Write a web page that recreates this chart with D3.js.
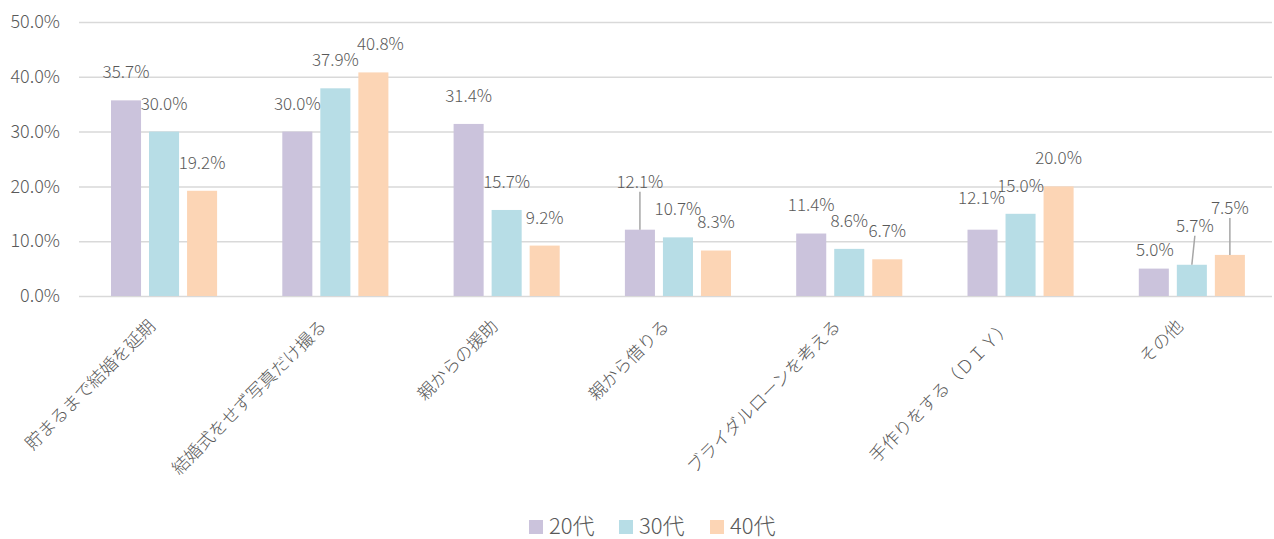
<!DOCTYPE html>
<html>
<head>
<meta charset="utf-8">
<script src="https://cdn.jsdelivr.net/npm/d3@7"></script>
<style>
  body { margin: 0; background: #fff; }
  text { font-family: "Noto Sans CJK JP", "Noto Sans", sans-serif; font-weight: 300; }
</style>
</head>
<body>
<svg id="chart" width="1274" height="539"></svg>
<script>
const categories = ['貯まるまで結婚を延期', '結婚式をせず写真だけ撮る', '親からの援助', '親から借りる', 'ブライダルローンを考える', '手作りをする（ＤＩＹ）', 'その他'];
const seriesNames = ['20代', '30代', '40代'];
const values20 = [35.7, 30.0, 31.4, 12.1, 11.4, 12.1, 5.0];
const values30 = [30.0, 37.9, 15.7, 10.7, 8.6, 15.0, 5.7];
const values40 = [19.2, 40.8, 9.2, 8.3, 6.7, 20.0, 7.5];
const yTicks = [0, 10, 20, 30, 40, 50];
const colors = ['#cbc3dc', '#b7dde6', '#fcd5b5'];

// labels that were dragged away from their default place: [category, series, dx, dy, leader]
const labelMoves = [
  [1, 2, 7, 0, false],
  [3, 0, 0, -20, true],
  [5, 0, -1, -4, false],
  [6, 0, 1, 9, false],
  [6, 1, 3, -11, true],
  [6, 2, 0, -19, true]
];

const svg = d3.select('#chart');
const margin = { top: 22, right: 2, bottom: 243, left: 79 };
const width = 1274 - margin.left - margin.right;
const height = 539 - margin.top - margin.bottom;
const g = svg.append('g').attr('transform', `translate(${margin.left},${margin.top})`);

const x = d3.scaleBand().domain(categories).range([-0.6, 1198.5]);
const xs = d3.scaleBand().domain(seriesNames).range([32.6, x.bandwidth() - 32.6]).paddingInner(0.21);
const y = d3.scaleLinear().domain([0, 50]).range([height, 0]);

// grid
g.append('g')
  .call(d3.axisLeft(y).tickValues(yTicks).tickSize(-width).tickFormat(d => d.toFixed(1) + '%'))
  .call(a => a.select('.domain').remove())
  .call(a => a.selectAll('.tick line').attr('stroke', '#d9d9d9').attr('stroke-width', 1.5))
  .call(a => a.selectAll('.tick text')
    .attr('x', -19).attr('fill', '#595959').attr('font-size', 18));

const rows = categories.map((c, i) => ({ cat: c, vals: [values20[i], values30[i], values40[i]] }));

const groups = g.selectAll('.grp').data(rows).join('g')
  .attr('transform', d => `translate(${x(d.cat)},0)`);

groups.selectAll('rect').data(d => d.vals.map((v, s) => ({ v, s })))
  .join('rect')
  .attr('x', d => xs(seriesNames[d.s]))
  .attr('width', xs.bandwidth())
  .attr('y', d => y(d.v))
  .attr('height', d => height - y(d.v))
  .attr('fill', d => colors[d.s]);

// data labels
const labels = [];
rows.forEach((r, ci) => r.vals.forEach((v, s) => {
  const mv = labelMoves.find(m => m[0] === ci && m[1] === s);
  const bx = x(r.cat) + xs(seriesNames[s]) + xs.bandwidth() / 2;
  const by = y(v);
  labels.push({ v, bx, by, dx: mv ? mv[2] : 0, dy: mv ? mv[3] : 0, leader: mv ? mv[4] : false });
}));

g.selectAll('.leader').data(labels.filter(d => d.leader)).join('line')
  .attr('x1', d => d.bx).attr('y1', d => d.by)
  .attr('x2', d => d.bx + d.dx).attr('y2', d => d.by - 28 + d.dy + 10)
  .attr('stroke', '#a6a6a6').attr('stroke-width', 1.5);

g.selectAll('.dl').data(labels).join('text')
  .attr('x', d => d.bx + d.dx)
  .attr('y', d => d.by - 28 + d.dy)
  .attr('dy', '0.35em')
  .attr('text-anchor', 'middle')
  .attr('fill', '#595959')
  .attr('font-size', 17)
  .text(d => d.v.toFixed(1) + '%');

// category labels
g.selectAll('.cl').data(categories).join('text')
  .attr('transform', d => `translate(${x(d) + x.bandwidth() / 2 - 12},${height + 27}) rotate(-45)`)
  .attr('text-anchor', 'end')
  .attr('dy', '0.35em')
  .attr('fill', '#595959')
  .attr('font-size', 17.5)
  .text(d => d);

// legend
const legendX = [529, 619, 710];
const legend = svg.selectAll('.lg').data(seriesNames).join('g')
  .attr('transform', (d, i) => `translate(${legendX[i]},526)`);
legend.append('rect').attr('x', 0).attr('y', -6).attr('width', 14).attr('height', 14)
  .attr('fill', (d, i) => colors[i]);
legend.append('text').attr('x', 20).attr('dy', '0.35em')
  .attr('fill', '#595959').attr('font-size', 22).text(d => d);
</script>
</body>
</html>
